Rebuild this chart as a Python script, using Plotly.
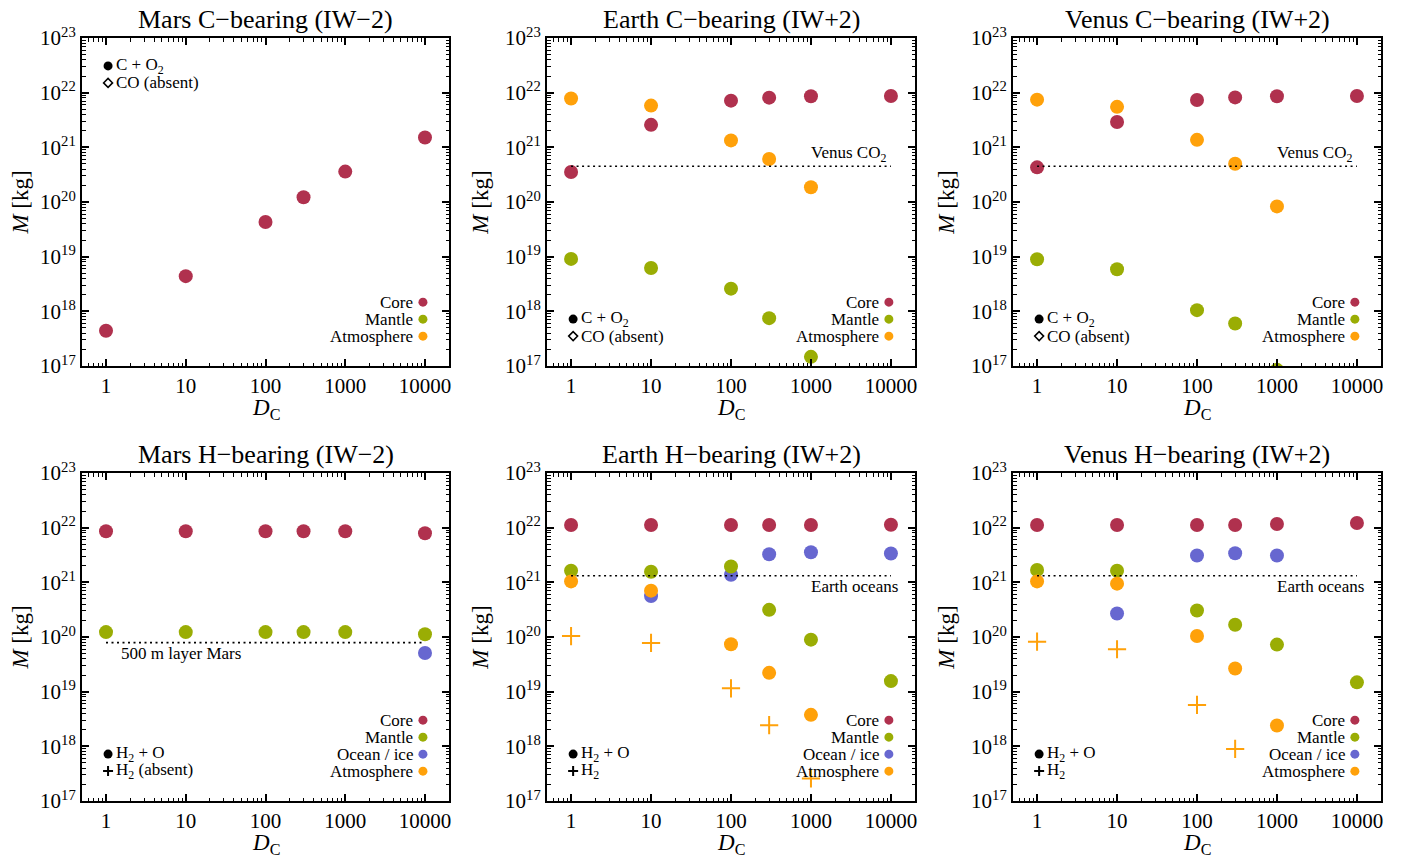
import math
import plotly.graph_objects as go

FONT = "Liberation Serif"

# ---------------- data ----------------
DC = [1, 10, 100, 300, 1000, 10000]

mars_c_core = [4.4e17, 4.4e18, 4.3e19, 1.22e20, 3.6e20, 1.51e21]

earth_c_core = [3.54e20, 2.58e21, 7.15e21, 8.1e21, 8.6e21, 8.7e21]
earth_c_mantle = [9.1e18, 6.2e18, 2.6e18, 7.5e17, 1.47e17, None]
earth_c_atmos = [7.8e21, 5.8e21, 1.34e21, 6.1e20, 1.86e20, None]

venus_c_core = [4.3e20, 2.9e21, 7.35e21, 8.2e21, 8.6e21, 8.7e21]
venus_c_mantle = [8.96e18, 5.9e18, 1.05e18, 6.0e17, 8.5e16, None]
venus_c_atmos = [7.45e21, 5.5e21, 1.37e21, 5.0e20, 8.3e19, None]

mars_h_core = [8.6e21, 8.6e21, 8.6e21, 8.6e21, 8.6e21, 7.9e21]
mars_h_mantle = [1.23e20, 1.23e20, 1.23e20, 1.23e20, 1.23e20, 1.12e20]
mars_h_ocean = [None, None, None, None, None, 5.1e19]

earth_h_core = [1.12e22, 1.12e22, 1.12e22, 1.12e22, 1.12e22, 1.13e22]
earth_h_mantle = [1.63e21, 1.56e21, 1.95e21, 3.14e20, 8.95e19, 1.56e19]
earth_h_ocean = [None, 5.6e20, 1.38e21, 3.27e21, 3.56e21, 3.37e21]
earth_h_atmos = [1.04e21, 7.05e20, 7.36e19, 2.21e19, 3.77e18, None]
earth_h_h2 = [1.04e20, 7.8e19, 1.15e19, 2.44e18, 2.58e17, None]

venus_h_core = [1.12e22, 1.12e22, 1.12e22, 1.12e22, 1.17e22, 1.22e22]
venus_h_mantle = [1.68e21, 1.63e21, 3.05e20, 1.68e20, 7.26e19, 1.48e19]
venus_h_ocean = [None, 2.69e20, 3.1e21, 3.41e21, 3.1e21, None]
venus_h_atmos = [1.04e21, 9.46e20, 1.04e20, 2.66e19, 2.41e18, None]
venus_h_h2 = [8.2e19, 5.97e19, 5.72e18, 8.95e17, None, None]

ref_x = [1, 10000]
venus_co2 = 4.5e20
earth_oceans = 1.32e21
mars_500m = 7.9e19

x_tickvals = [1, 10, 100, 1000, 10000]
x_ticktext = ["1", "10", "100", "1000", "10000"]
y_tickvals = [1e17, 1e18, 1e19, 1e20, 1e21, 1e22, 1e23]
y_ticktext = ["10<sup>17</sup>", "10<sup>18</sup>", "10<sup>19</sup>", "10<sup>20</sup>",
              "10<sup>21</sup>", "10<sup>22</sup>", "10<sup>23</sup>"]

titles = ["Mars C\u2212bearing (IW\u22122)", "Earth C\u2212bearing (IW+2)", "Venus C\u2212bearing (IW+2)",
          "Mars H\u2212bearing (IW\u22122)", "Earth H\u2212bearing (IW+2)", "Venus H\u2212bearing (IW+2)"]

C_CORE = "#B0314E"
C_MANTLE = "#9AAD04"
C_OCEAN = "#6767D0"
C_ATMOS = "#FFA10A"

# ---------------- layout geometry ----------------
W, H = 1402, 857
OFF = 8  # page body margin
col_px = [(82 - OFF, 449 - OFF), (547 - OFF, 915 - OFF), (1013 - OFF, 1381 - OFF)]
row_px = [(38 - OFF, 366 - OFF), (473 - OFF, 801 - OFF)]

fig = go.Figure()


def ax_id(i):
    return "" if i == 0 else str(i + 1)


minor_x = [float(m) * 10.0 ** e for e in range(-1, 5) for m in range(2, 10)]
minor_x = [v for v in minor_x if 0.5 <= v <= 20000]
minor_y = [float(m) * 10.0 ** e for e in range(17, 23) for m in range(2, 10)]

layout_axes = {}
for i in range(6):
    r, c = divmod(i, 3)
    x0, x1 = col_px[c]
    yt, yb = row_px[r]
    common = dict(
        type="log", showline=True, linewidth=2, linecolor="black", mirror="allticks",
        ticks="inside", ticklen=7, tickwidth=1.5, tickcolor="black",
        showgrid=False, zeroline=False, automargin=False,
        tickfont=dict(family=FONT, size=21, color="black"),
    )
    xa = dict(common)
    xa.update(domain=[x0 / W, x1 / W], range=[math.log10(0.5), math.log10(20000)],
              tickvals=x_tickvals, ticktext=x_ticktext, anchor="y" + ax_id(i),
              minor=dict(ticks="inside", ticklen=3.5, tickwidth=1, tickcolor="black", tickvals=minor_x, showgrid=False))
    ya = dict(common)
    ya.update(domain=[1 - yb / H, 1 - yt / H], range=[17, 23],
              tickvals=y_tickvals, ticktext=y_ticktext, anchor="x" + ax_id(i),
              title=dict(text="<i>M</i> [kg]", font=dict(family=FONT, size=23, color="black"), standoff=10),
              minor=dict(ticks="inside", ticklen=3.5, tickwidth=1, tickcolor="black", tickvals=minor_y, showgrid=False))
    layout_axes["xaxis" + ax_id(i)] = xa
    layout_axes["yaxis" + ax_id(i)] = ya


def add_pts(i, ys, color, symbol="circle"):
    if symbol == "circle":
        marker = dict(size=14, color=color, symbol="circle", line=dict(width=0))
    else:
        marker = dict(size=13, color=color, symbol="cross-thin", line=dict(width=2, color=color))
    fig.add_trace(go.Scatter(x=DC, y=ys, mode="markers", marker=marker,
                             xaxis="x" + ax_id(i), yaxis="y" + ax_id(i), showlegend=False,
                             hoverinfo="x+y"))


def add_ref(i, val):
    fig.add_trace(go.Scatter(x=ref_x, y=[val, val], mode="lines",
                             line=dict(color="black", width=1.6, dash="2px,3.5px"),
                             xaxis="x" + ax_id(i), yaxis="y" + ax_id(i), showlegend=False,
                             hoverinfo="skip"))


# panel 0: Mars C
add_pts(0, mars_c_core, C_CORE)
# panel 1: Earth C
add_pts(1, earth_c_core, C_CORE)
add_pts(1, earth_c_mantle, C_MANTLE)
add_pts(1, earth_c_atmos, C_ATMOS)
add_ref(1, venus_co2)
# panel 2: Venus C
add_pts(2, venus_c_core, C_CORE)
add_pts(2, venus_c_mantle, C_MANTLE)
add_pts(2, venus_c_atmos, C_ATMOS)
add_ref(2, venus_co2)
# panel 3: Mars H
add_pts(3, mars_h_core, C_CORE)
add_pts(3, mars_h_ocean, C_OCEAN)
add_pts(3, mars_h_mantle, C_MANTLE)
add_ref(3, mars_500m)
# panel 4: Earth H
add_pts(4, earth_h_core, C_CORE)
add_pts(4, earth_h_ocean, C_OCEAN)
add_pts(4, earth_h_mantle, C_MANTLE)
add_pts(4, earth_h_atmos, C_ATMOS)
add_pts(4, earth_h_h2, C_ATMOS, symbol="cross")
add_ref(4, earth_oceans)
# panel 5: Venus H
add_pts(5, venus_h_core, C_CORE)
add_pts(5, venus_h_ocean, C_OCEAN)
add_pts(5, venus_h_mantle, C_MANTLE)
add_pts(5, venus_h_atmos, C_ATMOS)
add_pts(5, venus_h_h2, C_ATMOS, symbol="cross")
add_ref(5, earth_oceans)

annotations = []
shapes = []

# titles and x-axis titles
for i, t in enumerate(titles):
    annotations.append(dict(text=t, xref="x" + ax_id(i) + " domain", yref="y" + ax_id(i) + " domain",
                            x=0.5, y=1, xanchor="center", yanchor="bottom", yshift=3, showarrow=False,
                            borderpad=0, font=dict(family=FONT, size=26, color="black")))
    annotations.append(dict(text="<i>D</i><sub>C</sub>", xref="x" + ax_id(i) + " domain",
                            yref="y" + ax_id(i) + " domain",
                            x=0.5, y=0, xanchor="center", yanchor="top", yshift=-28, showarrow=False,
                            borderpad=0, font=dict(family=FONT, size=23, color="black")))

LFS = 17
# reference line labels
for i in (1, 2):
    annotations.append(dict(text="Venus CO<sub>2</sub>", xref="x" + ax_id(i), yref="y" + ax_id(i),
                            x=math.log10(10000), y=math.log10(venus_co2), xanchor="right", yanchor="bottom",
                            xshift=-3, yshift=-1, showarrow=False, font=dict(family=FONT, size=LFS, color="black")))
for i in (4, 5):
    annotations.append(dict(text="Earth oceans", xref="x" + ax_id(i), yref="y" + ax_id(i),
                            x=math.log10(10000), y=math.log10(earth_oceans), xanchor="right", yanchor="top",
                            xshift=9, yshift=1, showarrow=False, font=dict(family=FONT, size=LFS, color="black")))
annotations.append(dict(text="500 m layer Mars", xref="x4", yref="y4",
                        x=0, y=math.log10(mars_500m), xanchor="left", yanchor="top",
                        xshift=13, yshift=1, showarrow=False, font=dict(family=FONT, size=LFS, color="black")))

# colour legends
leg_c = [("Core", C_CORE), ("Mantle", C_MANTLE), ("Atmosphere", C_ATMOS)]
leg_h = [("Core", C_CORE), ("Mantle", C_MANTLE), ("Ocean / ice", C_OCEAN), ("Atmosphere", C_ATMOS)]
row_step = 17 / 328
for i in range(6):
    items = leg_c if i < 3 else leg_h
    n = len(items)
    for k, (lab, col) in enumerate(items):
        yy = 0.091 + (n - 1 - k) * row_step
        xr = "x" + ax_id(i) + " domain"
        yr = "y" + ax_id(i) + " domain"
        annotations.append(dict(text=lab, xref=xr, yref=yr, x=0.905, y=yy, xanchor="right", yanchor="middle",
                                borderpad=0, showarrow=False, font=dict(family=FONT, size=LFS, color="black")))
        shapes.append(dict(type="circle", xref=xr, yref=yr, xsizemode="pixel", ysizemode="pixel",
                           xanchor=0.929, yanchor=yy, x0=-4.5, x1=4.5, y0=-4.5, y1=4.5,
                           fillcolor=col, line=dict(width=0)))

# symbol legends
sym_rows = {
    0: (0.915, ["C + O<sub>2</sub>", "CO (absent)"], "diamond"),
    1: (0.143, ["C + O<sub>2</sub>", "CO (absent)"], "diamond"),
    2: (0.143, ["C + O<sub>2</sub>", "CO (absent)"], "diamond"),
    3: (0.143, ["H<sub>2</sub> + O", "H<sub>2</sub> (absent)"], "plus"),
    4: (0.143, ["H<sub>2</sub> + O", "H<sub>2</sub>"], "plus"),
    5: (0.143, ["H<sub>2</sub> + O", "H<sub>2</sub>"], "plus"),
}
for i, (ytop, labs, second) in sym_rows.items():
    xr = "x" + ax_id(i) + " domain"
    yr = "y" + ax_id(i) + " domain"
    for k, lab in enumerate(labs):
        yy = ytop - k * row_step
        annotations.append(dict(text=lab, xref=xr, yref=yr, x=0.09, y=yy, xanchor="left", yanchor="middle",
                                borderpad=0, showarrow=False, font=dict(family=FONT, size=LFS, color="black")))
    shapes.append(dict(type="circle", xref=xr, yref=yr, xsizemode="pixel", ysizemode="pixel",
                       xanchor=0.071, yanchor=ytop, x0=-4.5, x1=4.5, y0=-4.5, y1=4.5,
                       fillcolor="black", line=dict(width=0)))
    y2 = ytop - row_step
    if second == "diamond":
        shapes.append(dict(type="path", xref=xr, yref=yr, xsizemode="pixel", ysizemode="pixel",
                           xanchor=0.071, yanchor=y2, path="M0,-4.5 L4.5,0 L0,4.5 L-4.5,0 Z",
                           fillcolor="white", line=dict(color="black", width=1.5)))
    else:
        shapes.append(dict(type="path", xref=xr, yref=yr, xsizemode="pixel", ysizemode="pixel",
                           xanchor=0.071, yanchor=y2, path="M-5,0 L5,0 M0,-5 L0,5",
                           line=dict(color="black", width=2)))

fig.update_layout(
    width=W, height=H, margin=dict(l=0, r=0, t=0, b=0, autoexpand=False),
    paper_bgcolor="white", plot_bgcolor="white",
    font=dict(family=FONT, color="black"),
    annotations=annotations, shapes=shapes, showlegend=False,
    **layout_axes,
)

fig.write_html("out.html")
